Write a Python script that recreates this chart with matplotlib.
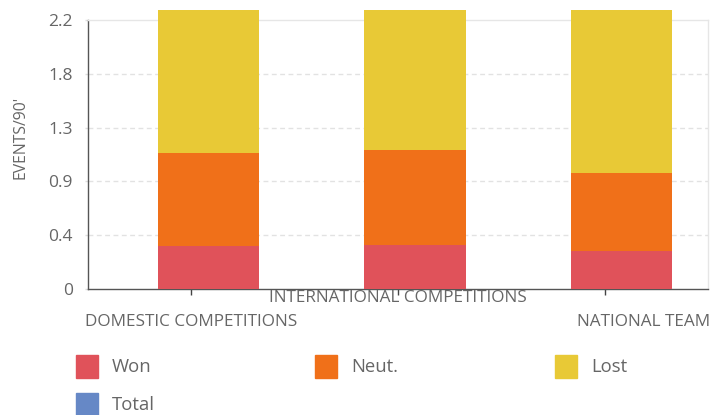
import matplotlib
matplotlib.use("Agg")
import matplotlib.pyplot as plt
from matplotlib.patches import Rectangle

plt.rcParams['font.family'] = ['Open Sans', 'DejaVu Sans']

categories = ["DOMESTIC COMPETITIONS", "INTERNATIONAL COMPETITIONS", "NATIONAL TEAM"]
won = [0.352, 0.360, 0.311]
neut = [0.760, 0.774, 0.635]
lost = [1.168, 1.148, 1.336]
series_names = ["Won", "Neut.", "Lost", "Total"]
series_colors = ["#E0525A", "#F07019", "#E8C936", "#6688C6"]
ytick_values = [0, 0.44, 0.88, 1.32, 1.76, 2.2]
ytick_labels = ["0", "0.4", "0.9", "1.3", "1.8", "2.2"]
y_label = "EVENTS/90'"

W, H = 712, 415
fig = plt.figure(figsize=(W / 100, H / 100), dpi=100)
ax = fig.add_axes([88 / W, 1 - 289 / H, 620 / W, 269 / H])

text_col = "#666666"
x = list(range(len(categories)))
xb = [i + 0.082 for i in x]
bw = 0.49
bottom2 = [a + b for a, b in zip(won, neut)]
ax.bar(xb, won, bw, color=series_colors[0], clip_on=False, zorder=3)
ax.bar(xb, neut, bw, bottom=won, color=series_colors[1], clip_on=False, zorder=3)
ax.bar(xb, lost, bw, bottom=bottom2, color=series_colors[2], clip_on=False, zorder=3)

ax.set_xlim(-0.5, 2.5)
ax.set_ylim(0, 2.2)
ax.set_yticks(ytick_values)
ax.set_yticklabels(ytick_labels)
ax.tick_params(axis='y', length=2, width=1, color="#dddddd", pad=9,
               labelsize=12.5, labelcolor=text_col)
ax.set_xticks(x)
ax.set_xticklabels([])
ax.tick_params(axis='x', length=4, width=1, color="#444444")

for v in ytick_values[1:-1]:
    ax.axhline(v, color="#e2e2e2", lw=1, ls=(0, (3.5, 2.5)), zorder=1)

for s in ['left', 'bottom']:
    ax.spines[s].set_color("#555555")
    ax.spines[s].set_linewidth(1)
for s in ['top', 'right']:
    ax.spines[s].set_color("#e6e6e6")
    ax.spines[s].set_linewidth(1)

fig.text(20 / W, 1 - 137 / H, y_label, rotation=90, ha='center', va='center',
         fontsize=11.3, color=text_col)

# category labels (staggered)
trans = ax.get_xaxis_transform()
ax.text(x[0], (289 - 322) / 269, categories[0], transform=trans, ha='center',
        va='center', fontsize=12.3, color=text_col)
ax.text(x[1], (289 - 298) / 269, categories[1], transform=trans, ha='center',
        va='center', fontsize=12.3, color=text_col)
fig.text(710 / W, 1 - 322 / H, categories[2], ha='right', va='center',
         fontsize=12.3, color=text_col)

# legend
leg_pos = [(76, 355), (315, 355), (555, 355), (76, 393)]
for (lx, ly), name, col in zip(leg_pos, series_names, series_colors):
    fig.add_artist(Rectangle((lx / W, 1 - (ly + 23) / H), 22 / W, 23 / H,
                             transform=fig.transFigure, color=col))
    fig.text((lx + 36) / W, 1 - (ly + 12) / H, name, ha='left', va='center',
             fontsize=13.3, color=text_col)

fig.savefig("out.png", dpi=100)
